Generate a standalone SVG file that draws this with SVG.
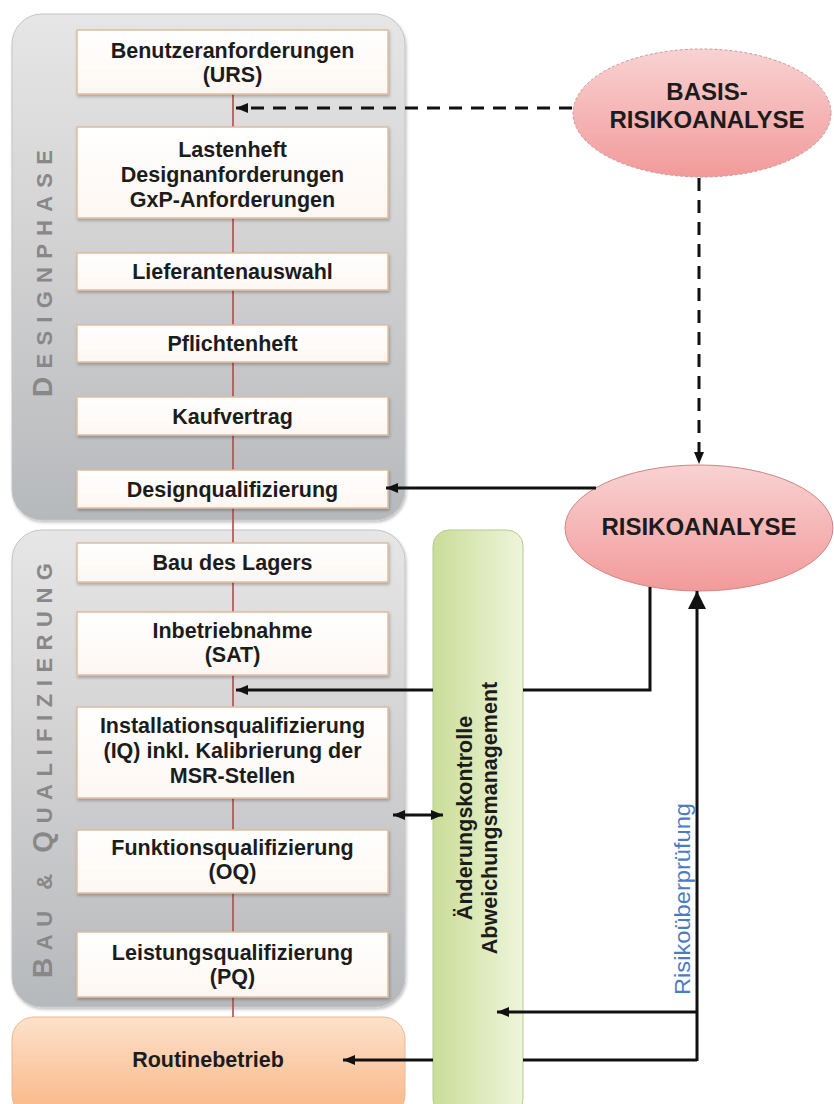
<svg xmlns="http://www.w3.org/2000/svg" width="834" height="1104" viewBox="0 0 834 1104">
<style>
.box{fill:url(#boxGrad);stroke:#e0bc9e;stroke-width:1.5;filter:url(#sh)}
.bt{font-family:"Liberation Sans",Arial,sans-serif;font-weight:bold;font-size:21.5px;fill:#1c1c1c;text-anchor:middle}
.side{font-family:"Liberation Sans",Arial,sans-serif;font-weight:bold;font-size:22px;fill:#888888}
.side .big{font-size:28px}
.el{font-family:"Liberation Sans",Arial,sans-serif;font-weight:bold;font-size:24px;fill:#1c1c1c;text-anchor:middle}
.ln{fill:none;stroke:#111;stroke-width:3}
.dash{fill:none;stroke:#111;stroke-width:3;stroke-dasharray:13 9}
</style>
<defs>
<linearGradient id="panelGrad" x1="0" y1="0" x2="0" y2="1">
<stop offset="0" stop-color="#e6e6e6"/><stop offset="0.5" stop-color="#d0d0d1"/><stop offset="1" stop-color="#b6b9bc"/>
</linearGradient>
<linearGradient id="boxGrad" x1="0" y1="0" x2="0" y2="1">
<stop offset="0" stop-color="#ffffff"/><stop offset="1" stop-color="#fdf7f2"/>
</linearGradient>
<linearGradient id="routGrad" x1="0" y1="0" x2="0" y2="1">
<stop offset="0" stop-color="#fde1cb"/><stop offset="1" stop-color="#f9b684"/>
</linearGradient>
<linearGradient id="greenGrad" x1="0" y1="0" x2="1" y2="0">
<stop offset="0" stop-color="#cadd98"/><stop offset="1" stop-color="#eef5da"/>
</linearGradient>
<linearGradient id="redGrad" x1="0" y1="0" x2="0" y2="1">
<stop offset="0" stop-color="#f9d2d2"/><stop offset="1" stop-color="#f29a9a"/>
</linearGradient>
<filter id="sh" x="-10%" y="-10%" width="120%" height="130%">
<feDropShadow dx="1" dy="2" stdDeviation="1.5" flood-color="#000" flood-opacity="0.25"/>
</filter>
<marker id="ah" viewBox="0 0 12 10" refX="12" refY="5" markerWidth="12" markerHeight="10" markerUnits="userSpaceOnUse" orient="auto-start-reverse">
<path d="M0,0 L12,5 L0,10 z" fill="#111"/>
</marker>
<marker id="ahBig" viewBox="0 0 18 18" refX="18" refY="9" markerWidth="18" markerHeight="18" markerUnits="userSpaceOnUse" orient="auto">
<path d="M0,0 L18,9 L0,18 z" fill="#111"/>
</marker>
</defs>
<rect width="834" height="1104" fill="#ffffff"/>

<g id="panel-design">
<rect x="12" y="14" width="393" height="506" rx="30" fill="url(#panelGrad)" stroke="#c4c4c4" stroke-width="1" filter="url(#sh)"/>
<text class="side" transform="translate(52,397) rotate(-90)" textLength="247" lengthAdjust="spacing"><tspan class="big">D</tspan>ESIGNPHASE</text>
</g>
<g id="panel-bau">
<rect x="12" y="530" width="393" height="477" rx="30" fill="url(#panelGrad)" stroke="#c4c4c4" stroke-width="1" filter="url(#sh)"/>
<text class="side" transform="translate(52,978) rotate(-90)" textLength="415" lengthAdjust="spacing"><tspan class="big">B</tspan>AU &amp; <tspan class="big">Q</tspan>UALIFIZIERUNG</text>
</g>
<g id="routinebetrieb">
<rect x="12" y="1017" width="393" height="100" rx="22" fill="url(#routGrad)" stroke="#e9b895" stroke-width="1"/>
<text class="bt" x="208" y="1067">Routinebetrieb</text>
</g>

<line x1="233" y1="94" x2="233" y2="1017" stroke="#b34a4c" stroke-width="1.6"/>

<g id="urs"><rect class="box" x="77" y="30" width="311" height="64"/>
<text class="bt" x="232.5" y="58">Benutzeranforderungen</text><text class="bt" x="232.5" y="82">(URS)</text></g>
<g id="lastenheft"><rect class="box" x="77" y="127" width="311" height="91"/>
<text class="bt" x="232.5" y="157">Lastenheft</text><text class="bt" x="232.5" y="182">Designanforderungen</text><text class="bt" x="232.5" y="207">GxP-Anforderungen</text></g>
<g id="lieferantenauswahl"><rect class="box" x="77" y="253" width="311" height="37"/>
<text class="bt" x="232.5" y="279">Lieferantenauswahl</text></g>
<g id="pflichtenheft"><rect class="box" x="77" y="325" width="311" height="37"/>
<text class="bt" x="232.5" y="351">Pflichtenheft</text></g>
<g id="kaufvertrag"><rect class="box" x="77" y="397" width="311" height="38"/>
<text class="bt" x="232.5" y="424">Kaufvertrag</text></g>
<g id="designqualifizierung"><rect class="box" x="77" y="470" width="311" height="38"/>
<text class="bt" x="232.5" y="497">Designqualifizierung</text></g>
<g id="bau-lager"><rect class="box" x="77" y="543" width="311" height="39"/>
<text class="bt" x="232.5" y="570">Bau des Lagers</text></g>
<g id="inbetriebnahme"><rect class="box" x="77" y="612" width="311" height="63"/>
<text class="bt" x="232.5" y="638">Inbetriebnahme</text><text class="bt" x="232.5" y="662">(SAT)</text></g>
<g id="iq"><rect class="box" x="77" y="707" width="311" height="91"/>
<text class="bt" x="232.5" y="733">Installationsqualifizierung</text><text class="bt" x="232.5" y="758">(IQ) inkl. Kalibrierung der</text><text class="bt" x="232.5" y="783">MSR-Stellen</text></g>
<g id="oq"><rect class="box" x="77" y="830" width="311" height="63"/>
<text class="bt" x="232.5" y="855">Funktionsqualifizierung</text><text class="bt" x="232.5" y="879">(OQ)</text></g>
<g id="pq"><rect class="box" x="77" y="932" width="311" height="65"/>
<text class="bt" x="232.5" y="960">Leistungsqualifizierung</text><text class="bt" x="232.5" y="984">(PQ)</text></g>

<g id="aenderungskontrolle">
<rect x="433" y="530" width="90" height="585" rx="16" fill="url(#greenGrad)" stroke="#b9c98f" stroke-width="1"/>
<text class="bt" transform="translate(472,818) rotate(-90)">Änderungskontrolle</text>
<text class="bt" transform="translate(497,818) rotate(-90)">Abweichungsmanagement</text>
</g>

<g id="basis-risikoanalyse">
<ellipse cx="702" cy="113" rx="129" ry="64" fill="url(#redGrad)" stroke="#c99696" stroke-width="1" stroke-dasharray="3 2"/>
<text class="el" x="707" y="100">BASIS-</text>
<text class="el" x="707" y="128">RISIKOANALYSE</text>
</g>
<g id="risikoanalyse">
<ellipse cx="699" cy="528" rx="134" ry="63" fill="url(#redGrad)" stroke="#d08484" stroke-width="1"/>
<text class="el" x="699" y="535">RISIKOANALYSE</text>
</g>

<g id="connectors">
<path class="dash" d="M572,108 H236" marker-end="url(#ah)"/>
<path class="dash" d="M699,178 V464" marker-end="url(#ah)"/>
<path class="ln" d="M596,488 H386" marker-end="url(#ah)"/>
<path class="ln" d="M650,587 V690 H523"/>
<path class="ln" d="M433,690 H236" marker-end="url(#ah)"/>
<path class="ln" d="M393,815 H443" marker-start="url(#ah)" marker-end="url(#ah)"/>
<path class="ln" d="M697,1061 V591" marker-end="url(#ahBig)"/>
<path class="ln" d="M697,1012 H497" marker-end="url(#ah)"/>
<path class="ln" d="M697,1060 H523"/>
<path class="ln" d="M433,1060 H343" marker-end="url(#ah)"/>
<text transform="translate(690,899) rotate(-90)" text-anchor="middle" font-family="Liberation Sans, Arial, sans-serif" font-size="22px" fill="#4a7cc4" textLength="192" lengthAdjust="spacingAndGlyphs">Risikoüberprüfung</text>
</g>
</svg>
